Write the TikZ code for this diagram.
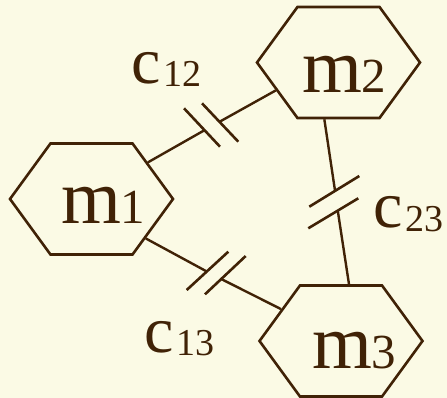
\documentclass[tikz,border=0pt]{standalone}
\usepackage{fontspec}
\setmainfont{Liberation Serif}
\usetikzlibrary{shapes.symbols}
\definecolor{bg}{RGB}{251,250,229}
\definecolor{ink}{RGB}{64,34,6}
\newcommand\mlab[1]{{\fontsize{77}{77}\selectfont m}{\fontsize{49}{49}\selectfont #1}}
\newcommand\clab[1]{{\fontsize{66}{66}\selectfont c}\kern3pt\raisebox{-3pt}{\fontsize{38}{38}\selectfont #1}}
\begin{document}
\begin{tikzpicture}[x=1pt,y=-1pt,
  hexa/.style={signal, signal to=west and east, signal pointer angle=107.8,
    minimum width=163pt, minimum height=111pt, inner sep=0pt,
    draw=ink, line width=2.6pt},
  wire/.style={draw=ink, line width=2.4pt},
  plate/.style={draw=ink, line width=2.6pt},
  lab/.style={anchor=base west, inner sep=0pt, outer sep=0pt, text=ink}]
\fill[bg] (0,0) rectangle (447,398);
\useasboundingbox (0,0) rectangle (447,398);
% masses
\node[hexa] (m1) at (91.5,199) {};
\node[hexa] (m2) at (338.5,62.5) {};
\node[hexa] (m3) at (341,341) {};
\node[lab] (t1) at (61,223) {\mlab{1}};
\node[lab] (t2) at (302,93) {\mlab{2}};
\node[lab] (t3) at (312,368) {\mlab{3}};
% capacitor c12
\coordinate (g12a) at (204.5,130.2);
\coordinate (g12b) at (219.5,121.8);
\coordinate (p12a1) at (184,108.3);
\coordinate (p12a2) at (220,146.7);
\coordinate (p12b1) at (202,103.3);
\coordinate (p12b2) at (238.3,141.7);
\draw[wire] (m1.33.7) -- (g12a);
\draw[wire] (g12b) -- (m2.204.1);
\draw[plate] (p12a1) -- (p12a2);
\draw[plate] (p12b1) -- (p12b2);
% capacitor c23
\coordinate (g23a) at (335.05,190.9);
\coordinate (g23b) at (337.75,210.6);
\coordinate (p23a1) at (309.3,206.7);
\coordinate (p23a2) at (359.3,176);
\coordinate (p23b1) at (308.3,228.3);
\coordinate (p23b2) at (358.3,198.3);
\draw[wire] (m2.256.1) -- (g23a);
\draw[wire] (g23b) -- (m3.82.7);
\draw[plate] (p23a1) -- (p23a2);
\draw[plate] (p23b1) -- (p23b2);
% capacitor c13
\coordinate (g13a) at (206.8,271.5);
\coordinate (g13b) at (221.2,279.0);
\coordinate (p13a1) at (186.7,290);
\coordinate (p13a2) at (228.3,251.7);
\coordinate (p13b1) at (205,294.3);
\coordinate (p13b2) at (245.7,256);
\draw[wire] (m1.-36.8) -- (g13a);
\draw[wire] (g13b) -- (m3.152.8);
\draw[plate] (p13a1) -- (p13a2);
\draw[plate] (p13b1) -- (p13b2);
% labels
\node[lab] (c12) at (131.5,84) {\clab{12}};
\node[lab] (c23) at (373.5,228) {\clab{23}};
\node[lab] (c13) at (144.5,352) {\clab{13}};
\end{tikzpicture}
\end{document}
